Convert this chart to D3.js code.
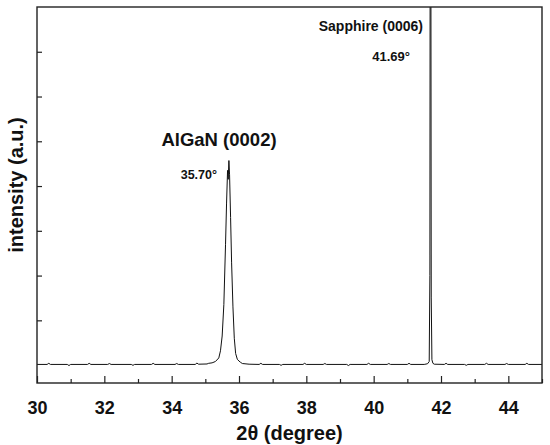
<!DOCTYPE html>
<html>
<head>
<meta charset="utf-8">
<script src="https://cdn.jsdelivr.net/npm/d3@7"></script>
<style>
    body { margin: 0; background: #fff; }
    svg { display: block; font-family: "Liberation Sans", Arial, sans-serif; }
    .frame { fill: none; stroke: #222; stroke-width: 1.4; }
    .scan { fill: none; stroke: #111; stroke-width: 1; }
    .axis path { display: none; }
    .axis line { stroke: #222; stroke-width: 1.2; }
    .axis text { font-size: 18px; font-weight: bold; fill: #111; }
    .label { font-weight: bold; fill: #111; }
</style>
</head>
<body>
<script>
(function(){
    //xrd scan as [2theta, counts]
    var baselineLeft = [[30.0, 15], [30.3, 15], [30.35, 40], [30.4, 15], [30.9, 15], [30.95, -10],
        [31.0, 15], [31.5, 15], [31.55, 40], [31.6, 15], [32.1, 15], [32.15, 35], [32.2, 15],
        [32.8, 15], [32.85, -5], [32.9, 15], [33.4, 15], [33.45, 40], [33.5, 15], [34.1, 15],
        [34.15, 35], [34.2, 15], [34.7, 15], [34.75, 45], [34.8, 20], [35.05, 25], [35.1, 40]];
    var algaNPeak = [[35.2, 50], [35.3, 80], [35.4, 160], [35.45, 320], [35.5, 650],
        [35.55, 1350], [35.6, 2700], [35.63, 3600], [35.66, 4350], [35.68, 4150],
        [35.7, 4570], [35.72, 4250], [35.75, 3300], [35.78, 2300], [35.82, 1300],
        [35.86, 600], [35.9, 260], [35.95, 130], [36.0, 90]];
    var baselineMid = [[36.05, 60], [36.1, 35], [36.3, 20], [36.6, 15], [36.65, 40], [36.7, 15],
        [37.2, 15], [37.25, -5], [37.3, 15], [37.9, 15], [37.95, 40], [38.0, 15], [38.5, 15],
        [38.55, 35], [38.6, 15], [39.2, 15], [39.25, -10], [39.3, 15], [39.8, 15], [39.85, 40],
        [39.9, 15], [40.4, 15], [40.45, 35], [40.5, 15], [41.0, 15], [41.05, 40], [41.1, 15],
        [41.5, 15]];
    var sapphirePeak = [[41.6, 30], [41.65, 80], [41.67, 2000], [41.68, 12000],
        [41.69, 30000], [41.7, 9000], [41.71, 1500], [41.73, 120], [41.76, 40]];
    var baselineRight = [[41.8, 20], [42.1, 15], [42.15, 40], [42.2, 15], [42.7, 15],
        [42.75, -5], [42.8, 15], [43.3, 15], [43.35, 40], [43.4, 15], [43.9, 15], [43.95, 35],
        [44.0, 15], [44.5, 15], [44.55, 40], [44.6, 15], [45.0, 15]];

    var xMajorTicks = [30, 32, 34, 36, 38, 40, 42, 44];
    var xMinorTicks = [31, 33, 35, 37, 39, 41, 43, 45];
    var yTicks = [1000, 2000, 3000, 4000, 5000, 6000, 7000];

    var peakNames = ["AlGaN (0002)", "Sapphire (0006)"];
    var peakAngles = ["35.70°", "41.69°"];

    window.onload = drawChart();

    function drawChart(){
        //frame dimensions
        var width = 550,
            height = 445,
            left = 37,
            right = 542,
            top = 7,
            bottom = 383;

        var svg = d3.select("body")
            .append("svg")
            .attr("width", width)
            .attr("height", height);

        var x = d3.scaleLinear()
            .domain([30, 45])
            .range([left, right]);

        var y = d3.scaleLinear()
            .domain([-400, 8000])
            .range([bottom, top]);

        //clip the sapphire peak at the frame top
        svg.append("clipPath")
            .attr("id", "plotClip")
            .append("rect")
            .attr("x", left)
            .attr("y", top)
            .attr("width", right - left)
            .attr("height", bottom - top);

        var scan = baselineLeft.concat(algaNPeak, baselineMid, sapphirePeak, baselineRight);

        var line = d3.line()
            .x(function(d){ return x(d[0]); })
            .y(function(d){ return y(d[1]); });

        svg.append("path")
            .datum(scan)
            .attr("class", "scan")
            .attr("clip-path", "url(#plotClip)")
            .attr("d", line);

        //bottom axis, ticks pointing in
        svg.append("g")
            .attr("class", "axis")
            .attr("transform", "translate(0," + bottom + ")")
            .call(d3.axisBottom(x)
                .tickValues(xMajorTicks)
                .tickSize(-7)
                .tickPadding(18)
                .tickFormat(d3.format("d")));

        svg.append("g")
            .attr("class", "axis")
            .attr("transform", "translate(0," + bottom + ")")
            .call(d3.axisBottom(x)
                .tickValues(xMinorTicks)
                .tickSize(-4)
                .tickFormat(""));

        //left axis, unlabelled ticks
        svg.append("g")
            .attr("class", "axis")
            .attr("transform", "translate(" + left + ",0)")
            .call(d3.axisLeft(y)
                .tickValues(yTicks)
                .tickSize(-5)
                .tickFormat(""));

        svg.append("rect")
            .attr("class", "frame")
            .attr("x", left)
            .attr("y", top)
            .attr("width", right - left)
            .attr("height", bottom - top);

        //axis titles
        svg.append("text")
            .attr("class", "label")
            .attr("x", (left + right) / 2)
            .attr("y", 440)
            .attr("text-anchor", "middle")
            .style("font-size", "20px")
            .text("2θ (degree)");

        svg.append("text")
            .attr("class", "label")
            .attr("transform", "translate(23," + 185 + ") rotate(-90)")
            .attr("text-anchor", "middle")
            .style("font-size", "20px")
            .text("intensity (a.u.)");

        //peak annotations
        svg.append("text")
            .attr("class", "label")
            .attr("x", 219)
            .attr("y", 146)
            .attr("text-anchor", "middle")
            .style("font-size", "18.5px")
            .text(peakNames[0]);

        svg.append("text")
            .attr("class", "label")
            .attr("x", 217)
            .attr("y", 179)
            .attr("text-anchor", "end")
            .style("font-size", "12.5px")
            .text(peakAngles[0]);

        svg.append("text")
            .attr("class", "label")
            .attr("x", 423)
            .attr("y", 31)
            .attr("text-anchor", "end")
            .style("font-size", "14px")
            .text(peakNames[1]);

        svg.append("text")
            .attr("class", "label")
            .attr("x", 410)
            .attr("y", 61)
            .attr("text-anchor", "end")
            .style("font-size", "13px")
            .text(peakAngles[1]);
    }
})();
</script>
</body>
</html>
